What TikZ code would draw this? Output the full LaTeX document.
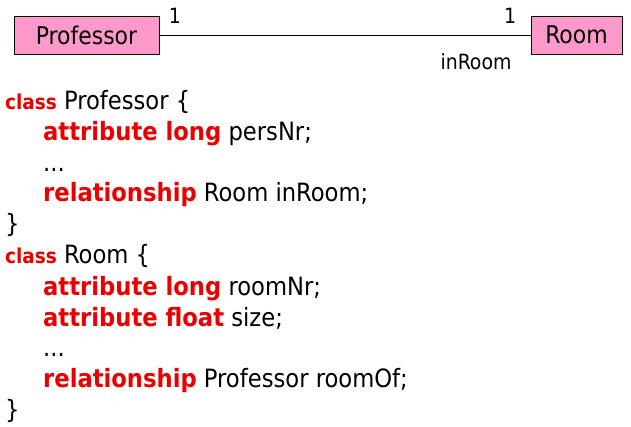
\documentclass[tikz,border=0pt]{standalone}
\usepackage{fontspec}
\setmainfont{DejaVu Sans Condensed}
\definecolor{boxpink}{RGB}{255,153,204}
\definecolor{kwred}{RGB}{235,0,0}
\tikzset{
  cls/.style={draw=black, fill=boxpink, line width=0.8pt, minimum height=38pt, inner sep=0pt, font=\fontsize{24.4}{26}\selectfont},
  code/.style={anchor=base west, inner sep=0pt, font=\fontsize{25.2}{27}\selectfont},
  lbl/.style={inner sep=0pt, font=\fontsize{21}{23}\selectfont}
}
\newcommand{\kw}[1]{\textcolor{kwred}{\bfseries #1}}
\newcommand{\kwc}[1]{\textcolor{kwred}{\bfseries\fontsize{20.5}{22}\selectfont #1}}
\begin{document}
\begin{tikzpicture}[x=1pt,y=-1pt]
\useasboundingbox (0,0) rectangle (631,427);
\node[cls, minimum width=145pt] (prof) at (86.5,35) {Professor};
\node[cls, minimum width=91pt] (room) at (576.5,35) {Room};
\draw[line width=0.8pt] (prof.east) -- (room.west);
\node[lbl, anchor=base] (m1) at (175,24) {1};
\node[lbl, anchor=base] (m2) at (510,24) {1};
\node[lbl, anchor=base] (role) at (476,70) {inRoom};
\node[code] (l1) at (5,110) {\kwc{class} Professor \{};
\node[code] (l2) at (43,141) {\kw{attribute long} persNr;};
\node[code] (l3) at (43,172) {...};
\node[code] (l4) at (43,202) {\kw{relationship} Room inRoom;};
\node[code] (l5) at (5,233) {\}};
\node[code] (l6) at (5,264) {\kwc{class} Room \{};
\node[code] (l7) at (43,295) {\kw{attribute long} roomNr;};
\node[code] (l8) at (43,326) {\kw{attribute float} size;};
\node[code] (l9) at (43,356) {...};
\node[code] (l10) at (43,387) {\kw{relationship} Professor roomOf;};
\node[code] (l11) at (5,418) {\}};
\end{tikzpicture}
\end{document}
